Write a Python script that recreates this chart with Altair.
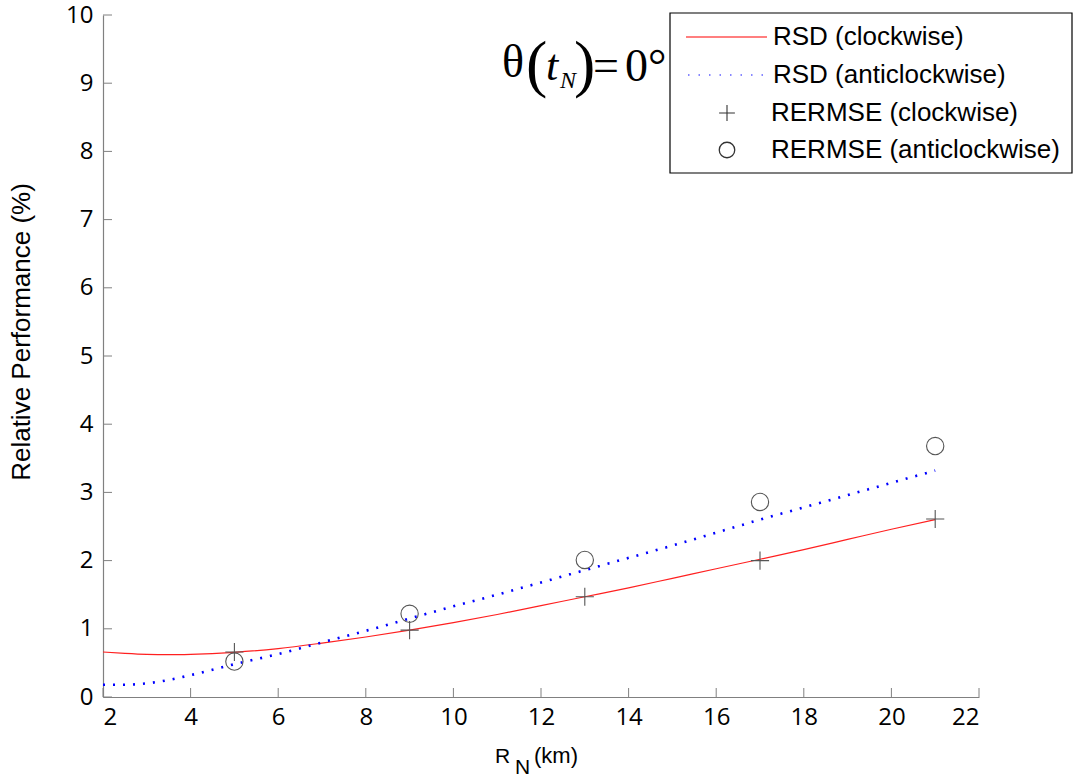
import altair as alt
import pandas as pd

# ---- data ----
curve_x = [2, 2.5, 3, 3.5, 4, 5, 6, 7, 8, 9, 10, 11, 12, 13, 14, 15, 16, 17, 18, 19, 20, 21]
rsd_cw = [0.66, 0.64, 0.625, 0.62, 0.625, 0.655, 0.71, 0.79, 0.88, 0.98, 1.09, 1.21, 1.34, 1.47, 1.6, 1.74, 1.88, 2.02, 2.16, 2.31, 2.46, 2.6]
rsd_acw = [0.18, 0.18, 0.2, 0.25, 0.32, 0.48, 0.63, 0.8, 0.97, 1.15, 1.33, 1.5, 1.68, 1.86, 2.04, 2.22, 2.41, 2.6, 2.78, 2.96, 3.14, 3.32]
pts_x = [5, 9, 13, 17, 21]
rermse_cw = [0.66, 0.98, 1.47, 2.0, 2.61]
rermse_acw = [0.52, 1.22, 2.01, 2.86, 3.68]
x_ticks = [2, 4, 6, 8, 10, 12, 14, 16, 18, 20, 22]
y_ticks = [0, 1, 2, 3, 4, 5, 6, 7, 8, 9, 10]
legend_labels = ["RSD (clockwise)", "RSD (anticlockwise)", "RERMSE (clockwise)", "RERMSE (anticlockwise)"]
y_title = "Relative Performance (%)"

W, H = 876, 682
FONT = "Open Sans"
SANS = "Liberation Sans"
SERIF = "Liberation Serif"
xs = alt.Scale(domain=[2, 22], nice=False, zero=False)
ys = alt.Scale(domain=[0, 10], nice=False)

curves = pd.DataFrame({"x": curve_x, "cw": rsd_cw, "acw": rsd_acw})
pts = pd.DataFrame({"x": pts_x, "cw": rermse_cw, "acw": rermse_acw})
one = pd.DataFrame({"a": [0]})

xaxis = alt.Axis(values=x_ticks, format="d", ticks=False, grid=False, domainColor="#808080",
                 labelFont=FONT, labelFontSize=24, labelColor="black", labelPadding=8,
                 title=None)
yaxis = alt.Axis(values=y_ticks, format="d", ticks=False, grid=False, domainColor="#808080",
                 labelFont=FONT, labelFontSize=24, labelColor="black", labelPadding=10,
                 title=None)

base = alt.Chart(curves)

red = base.mark_line(color="#ff2020", strokeWidth=1.2, interpolate="monotone").encode(
    x=alt.X("x:Q", scale=xs, axis=xaxis), y=alt.Y("cw:Q", scale=ys, axis=yaxis))
blue = base.mark_line(color="#0000ff", strokeWidth=2.6, strokeDash=[2, 8],
                      interpolate="monotone").encode(
    x=alt.X("x:Q", scale=xs), y=alt.Y("acw:Q", scale=ys))

plus_path = "M-1,0L1,0M0,-1L0,1"
plus = alt.Chart(pts).mark_point(shape=plus_path, size=330, color="#555555",
                                  strokeWidth=1.1, filled=False, opacity=1).encode(
    x=alt.X("x:Q", scale=xs), y=alt.Y("cw:Q", scale=ys))
circ = alt.Chart(pts).mark_point(shape="circle", size=300, color="#555555",
                                  strokeWidth=1.1, filled=False, opacity=1).encode(
    x=alt.X("x:Q", scale=xs), y=alt.Y("acw:Q", scale=ys))

xt = alt.Chart(pd.DataFrame({"v": x_ticks})).mark_rule(color="#808080", strokeWidth=1).encode(
    x=alt.X("v:Q", scale=xs), y=alt.value(H), y2=alt.value(H - 9))
yt = alt.Chart(pd.DataFrame({"v": y_ticks})).mark_rule(color="#808080", strokeWidth=1).encode(
    y=alt.Y("v:Q", scale=ys), x=alt.value(0), x2=alt.value(9))

def txt(s, x, y, size, font=FONT, style="normal", align="left", baseline="alphabetic", angle=None):
    kw = dict(text=s, fontSize=size, font=font, fontStyle=style, align=align,
              baseline=baseline, color="black")
    if angle is not None:
        kw["angle"] = angle
    return alt.Chart(one).mark_text(**kw).encode(x=alt.value(x), y=alt.value(y))

# annotation theta(t_N) = 0°
ann = [
    txt("θ", 399, 62, 46, font=SERIF),
    txt("(", 423, 70, 64, font=SERIF),
    txt("t", 443, 65, 44, font=SERIF, style="italic"),
    txt("N", 457, 73, 24, font=SERIF, style="italic"),
    txt(")", 471, 70, 64, font=SERIF),
    txt("=", 490, 66, 46, font=SERIF),
    txt("0°", 522, 66, 46, font=SERIF),
]

# axis titles
titles = [
    txt(y_title, -81, 317, 26, font=SANS, align="center", baseline="middle", angle=270),
    txt("R", 392, 748, 21, font=SANS),
    txt("N", 412, 759, 21, font=SANS),
    txt("(km)", 431, 748, 22, font=SANS),
]

# legend
LX0, LX1, LY0, LY1 = 567, 969, -2, 158
box = alt.Chart(one).mark_rect(fill="white", stroke="black", strokeWidth=1.2).encode(
    x=alt.value(LX0), x2=alt.value(LX1), y=alt.value(LY0), y2=alt.value(LY1))
rows_y = [22, 60, 98, 135]
leg_red = alt.Chart(one).mark_rule(color="#ff0000", strokeWidth=1.2).encode(
    x=alt.value(583), x2=alt.value(664), y=alt.value(rows_y[0]))
leg_blue = alt.Chart(one).mark_rule(color="#6060ff", strokeWidth=1.5, strokeDash=[1.5, 9]).encode(
    x=alt.value(585), x2=alt.value(664), y=alt.value(rows_y[1]))
leg_plus = alt.Chart(one).mark_point(shape=plus_path, size=250, color="#333333",
                                      strokeWidth=1.1, filled=False, opacity=1).encode(
    x=alt.value(624), y=alt.value(rows_y[2]))
leg_circ = alt.Chart(one).mark_point(shape="circle", size=240, color="#333333",
                                      strokeWidth=1.3, filled=False, opacity=1).encode(
    x=alt.value(624), y=alt.value(rows_y[3]))
leg_txt = [txt(legend_labels[i], 670 if i < 2 else 668, rows_y[i], 26,
               font=SANS, baseline="middle") for i in range(4)]

chart = alt.layer(
    red, blue, plus, circ, xt, yt, *ann, *titles,
    box, leg_red, leg_blue, leg_plus, leg_circ, *leg_txt
).properties(
    width=W, height=H,
    autosize=alt.AutoSizeParams(type="none"),
    padding={"left": 103, "top": 15, "right": 96, "bottom": 81},
).configure_view(stroke=None).configure_axis(domainWidth=1.2)

chart.save("out.html", embed_options={"renderer": "svg", "actions": False})
